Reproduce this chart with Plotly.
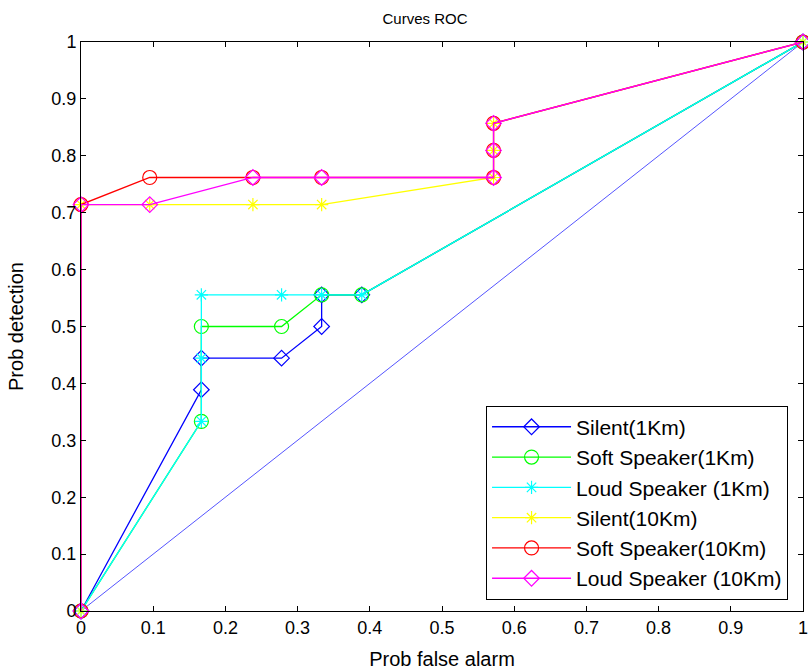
import plotly.graph_objects as go

# ROC points
silent_1_x = [0, 0.1667, 0.1667, 0.2778, 0.3333, 0.3333, 0.3889, 1]
silent_1_y = [0, 0.3889, 0.4444, 0.4444, 0.5, 0.5556, 0.5556, 1]

soft_1_x = [0, 0.1667, 0.1667, 0.2778, 0.3333, 0.3889, 1]
soft_1_y = [0, 0.3333, 0.5, 0.5, 0.5556, 0.5556, 1]

loud_1_x = [0, 0.1667, 0.1667, 0.1667, 0.2778, 0.3333, 0.3889, 1]
loud_1_y = [0, 0.3333, 0.4444, 0.5556, 0.5556, 0.5556, 0.5556, 1]

silent_10_x = [0, 0, 0.0952, 0.2381, 0.3333, 0.5714, 0.5714, 0.5714, 1]
silent_10_y = [0, 0.7143, 0.7143, 0.7143, 0.7143, 0.7619, 0.8095, 0.8571, 1]

soft_10_x = [0, 0, 0.0952, 0.2381, 0.3333, 0.5714, 0.5714, 0.5714, 1]
soft_10_y = [0, 0.7143, 0.7619, 0.7619, 0.7619, 0.7619, 0.8095, 0.8571, 1]

loud_10_x = [0, 0, 0.0952, 0.2381, 0.3333, 0.5714, 0.5714, 0.5714, 1]
loud_10_y = [0, 0.7143, 0.7143, 0.7619, 0.7619, 0.7619, 0.8095, 0.8571, 1]

chance_x = [0, 1]
chance_y = [0, 1]

tick_vals = [0, 0.1, 0.2, 0.3, 0.4, 0.5, 0.6, 0.7, 0.8, 0.9, 1]
tick_text = ["0", "0.1", "0.2", "0.3", "0.4", "0.5", "0.6", "0.7", "0.8", "0.9", "1"]

series = [
    ("Silent(1Km)", silent_1_x, silent_1_y, "#0000ff", "diamond-open", 12),
    ("Soft Speaker(1Km)", soft_1_x, soft_1_y, "#00ff00", "circle-open", 14),
    ("Loud Speaker (1Km)", loud_1_x, loud_1_y, "#00ffff", "asterisk-open", 11),
    ("Silent(10Km)", silent_10_x, silent_10_y, "#ffff00", "asterisk-open", 11),
    ("Soft Speaker(10Km)", soft_10_x, soft_10_y, "#ff0000", "circle-open", 14),
    ("Loud Speaker (10Km)", loud_10_x, loud_10_y, "#ff00ff", "diamond-open", 12),
]

FONT = "Liberation Sans, Arial"

fig = go.Figure()

# diagonal reference line, not in legend
fig.add_trace(go.Scatter(x=chance_x, y=chance_y, mode="lines",
                         line=dict(color="#5555ff", width=1),
                         showlegend=False, hoverinfo="skip"))

for name, xs, ys, col, sym, sz in series:
    fig.add_trace(go.Scatter(
        x=xs, y=ys, mode="lines+markers", name=name,
        line=dict(color=col, width=1.3),
        marker=dict(symbol=sym, size=sz, color=col, line=dict(color=col, width=1.2)),
        cliponaxis=False,
    ))

axis_common = dict(
    range=[0, 1], tickvals=tick_vals, ticktext=tick_text,
    showgrid=False, zeroline=False, automargin=False,
    showline=True, linecolor="black", linewidth=1, mirror="allticks",
    ticks="inside", ticklen=5, tickcolor="black",
    ticklabeloverflow="allow",
    tickfont=dict(family=FONT, size=18, color="black"),
)

fig.update_xaxes(**axis_common,
                 title=dict(text="Prob false alarm", standoff=15,
                            font=dict(family=FONT, size=20, color="black")))
fig.update_yaxes(**axis_common,
                 title=dict(text="Prob detection", standoff=22,
                            font=dict(family=FONT, size=20, color="black")))

fig.update_layout(
    width=808, height=672,
    margin=dict(l=81, r=5, t=42, b=61, autoexpand=False),
    paper_bgcolor="white", plot_bgcolor="white",
    title=dict(text="Curves ROC", x=0.526, xanchor="center", y=0.972, yanchor="middle",
               font=dict(family=FONT, size=15, color="black")),
    legend=dict(x=0.561, y=0.02, xanchor="left", yanchor="bottom",
                bgcolor="white", bordercolor="black", borderwidth=1,
                font=dict(family=FONT, size=21, color="black"),
                itemwidth=79, tracegroupgap=0),
    showlegend=True,
)

fig.write_html("out.html", config={"displayModeBar": False},
               post_script="document.body.style.margin='0';")
